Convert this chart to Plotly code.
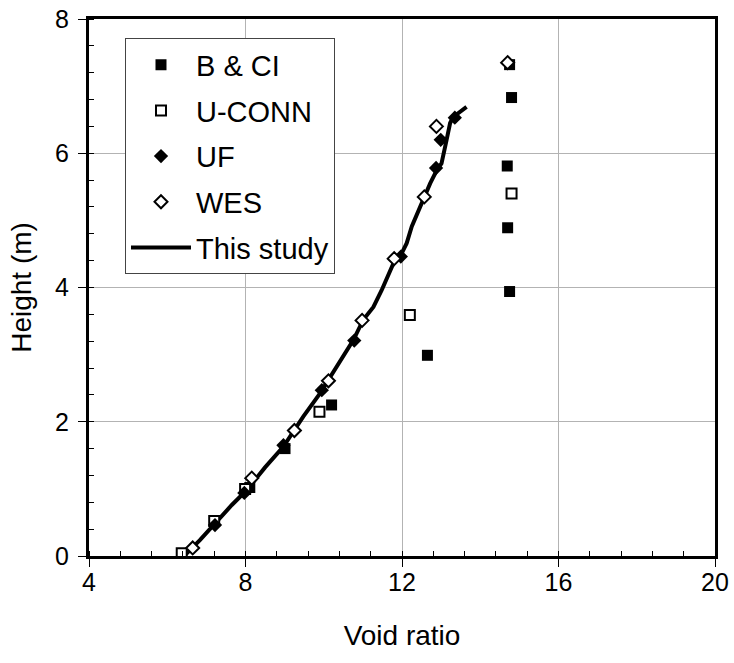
import plotly.graph_objects as go

# --- data ---
b_ci_x = [14.75, 14.80, 14.69, 14.70, 14.75, 12.65, 10.20, 9.01, 8.11]
b_ci_y = [7.32, 6.83, 5.81, 4.89, 3.94, 2.99, 2.25, 1.60, 1.02]

u_conn_x = [6.37, 7.20, 7.99, 9.89, 12.20, 14.80]
u_conn_y = [0.04, 0.52, 1.00, 2.15, 3.59, 5.40]

uf_x = [7.22, 7.97, 8.97, 9.95, 10.78, 11.97, 12.87, 12.99, 13.35]
uf_y = [0.46, 0.94, 1.65, 2.47, 3.21, 4.46, 5.78, 6.20, 6.53]

wes_x = [6.65, 8.16, 9.25, 10.12, 10.98, 11.80, 12.57, 12.88, 14.70]
wes_y = [0.12, 1.16, 1.87, 2.61, 3.51, 4.43, 5.35, 6.40, 7.35]

study_x = [6.42, 6.50, 6.84, 7.22, 7.65, 8.03, 8.50, 8.97, 9.22, 9.48, 9.90, 10.12,
           10.76, 11.01, 11.27, 11.48, 11.78, 11.95, 12.12, 12.25, 12.42, 12.54,
           12.72, 12.89, 13.01, 13.14, 13.23, 13.31, 13.65]
study_y = [0.00, 0.04, 0.24, 0.49, 0.76, 0.98, 1.32, 1.63, 1.85, 2.08, 2.42, 2.62,
           3.22, 3.52, 3.71, 3.96, 4.36, 4.46, 4.66, 4.91, 5.15, 5.30,
           5.55, 5.75, 5.85, 6.20, 6.45, 6.54, 6.69]

x_ticks = [4, 8, 12, 16, 20]
y_ticks = [0, 2, 4, 6, 8]

FONT = "Liberation Sans, Arial, sans-serif"

fig = go.Figure()

fig.add_trace(go.Scatter(
    x=study_x, y=study_y, mode="lines", name="This study",
    line=dict(color="black", width=4), legendrank=1005, legendgroup="e"))

fig.add_trace(go.Scatter(
    x=b_ci_x, y=b_ci_y, mode="markers", name="B & CI", legendrank=1001, legendgroup="a",
    marker=dict(symbol="square", size=11, color="black", line=dict(color="black", width=0))))

fig.add_trace(go.Scatter(
    x=u_conn_x, y=u_conn_y, mode="markers", name="U-CONN", legendrank=1002, legendgroup="b",
    marker=dict(symbol="square", size=10, color="white", line=dict(color="black", width=2))))

fig.add_trace(go.Scatter(
    x=uf_x, y=uf_y, mode="markers", name="UF", legendrank=1003, legendgroup="c",
    marker=dict(symbol="diamond", size=11, color="black", line=dict(color="black", width=0))))

fig.add_trace(go.Scatter(
    x=wes_x, y=wes_y, mode="markers", name="WES", legendrank=1004, legendgroup="d",
    marker=dict(symbol="diamond", size=10, color="white", line=dict(color="black", width=2))))

fig.update_layout(
    width=734, height=663,
    margin=dict(l=89, r=19, t=19, b=107),
    paper_bgcolor="white", plot_bgcolor="white",
    font=dict(family=FONT, color="black", size=25),
    showlegend=True,
    legend=dict(
        x=0.0575, y=0.964, xanchor="left", yanchor="top",
        bgcolor="white", bordercolor="#444444", borderwidth=1,
        font=dict(size=29, family=FONT, color="black"),
        traceorder="grouped", tracegroupgap=5, itemwidth=60,
    ),
    xaxis=dict(
        range=[4, 20], tickvals=x_ticks, ticktext=[str(v) for v in x_ticks],
        automargin=False,
        showgrid=True, gridcolor="#b3b3b3", gridwidth=1,
        showline=True, linecolor="black", linewidth=3, mirror=True,
        ticks="outside", ticklen=8, tickcolor="black", tickwidth=1,
        ticklabelstandoff=-6,
        minor=dict(dtick=0.8, tick0=4, ticks="inside", ticklen=5, tickcolor="black",
                   tickwidth=1, showgrid=False),
        zeroline=False,
        title=dict(text="Void ratio", font=dict(size=28, family=FONT), standoff=31),
        tickfont=dict(size=25, family=FONT),
    ),
    yaxis=dict(
        range=[0, 8], tickvals=y_ticks, ticktext=[str(v) for v in y_ticks],
        automargin=False,
        showgrid=True, gridcolor="#b3b3b3", gridwidth=1,
        showline=True, linecolor="black", linewidth=3, mirror=True,
        ticks="outside", ticklen=8, tickcolor="black", tickwidth=1,
        ticklabelstandoff=4,
        minor=dict(dtick=0.4, tick0=0, ticks="inside", ticklen=5, tickcolor="black",
                   tickwidth=1, showgrid=False),
        zeroline=False,
        title=dict(text="Height (m)", font=dict(size=28, family=FONT), standoff=16),
        tickfont=dict(size=25, family=FONT),
    ),
)

fig.write_html("out.html")
